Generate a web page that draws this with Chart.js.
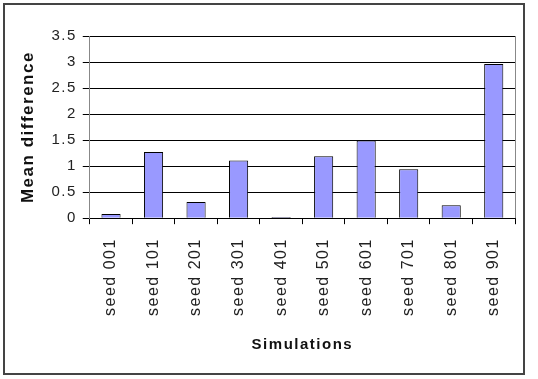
<!DOCTYPE html>
<html>
<head>
<meta charset="utf-8">
<script src="https://cdn.jsdelivr.net/npm/chart.js@4/dist/chart.umd.min.js"></script>
<style>
  html, body { margin: 0; padding: 0; background: #fff; }
  #wrap { width: 538px; height: 379px; }
</style>
</head>
<body>
<div id="wrap"><canvas id="meanChart" width="538" height="379"></canvas></div>
<script>
const seeds = ['seed 001', 'seed 101', 'seed 201', 'seed 301', 'seed 401',
               'seed 501', 'seed 601', 'seed 701', 'seed 801', 'seed 901'];
const meanDiff = [0.08, 1.27, 0.31, 1.11, 0.02, 1.19, 1.49, 0.94, 0.25, 2.96];
const yMin = 0, yMax = 3.5, yStep = 0.5;

// spacing + outer frame, roughly like the old spreadsheet chart
const framePlugin = {
    id: 'frame',
    beforeLayout(chart) {
        chart.ctx.letterSpacing = '1.5px';
    },
    beforeDraw(chart) {
        const c = chart.ctx;
        c.letterSpacing = '1.5px';
        c.save();
        c.fillStyle = '#fff';
        c.fillRect(0, 0, chart.width, chart.height);
        c.strokeStyle = '#444';
        c.lineWidth = 2;
        c.strokeRect(4, 4, 520, 370);
        c.restore();
    },
    afterDraw(chart) {
        const a = chart.chartArea, c = chart.ctx;
        c.save();
        c.strokeStyle = '#888';
        c.lineWidth = 1;
        c.beginPath();
        c.moveTo(a.right + 0.5, a.top);
        c.lineTo(a.right + 0.5, a.bottom);
        c.stroke();
        c.restore();
    }
};

const ctx = document.getElementById('meanChart').getContext('2d');
const meanChart = new Chart(ctx, {
    type: 'bar',
    data: {
        labels: seeds,
        datasets: [{
            label: 'Mean difference',
            data: meanDiff,
            backgroundColor: '#9999ff',
            borderColor: '#000',
            borderWidth: 1,
            barPercentage: 0.45,
            categoryPercentage: 1
        }]
    },
    options: {
        responsive: false,
        animation: false,
        layout: { padding: { left: 16, top: 36, right: 23, bottom: 21 } },
        plugins: {
            legend: { display: false },
            tooltip: { enabled: false }
        },
        scales: {
            x: {
                grid: { drawOnChartArea: false, color: '#000', tickLength: 6 },
                border: { color: '#000' },
                ticks: {
                    minRotation: 90, maxRotation: 90, padding: 14,
                    color: '#222',
                    font: { family: 'Liberation Sans', size: 16 }
                },
                title: {
                    display: true, text: 'Simulations', color: '#111',
                    padding: { top: 6, bottom: 4 },
                    font: { family: 'Liberation Sans', size: 15, weight: 'bold' }
                }
            },
            y: {
                min: yMin, max: yMax,
                grid: { color: '#000', tickLength: 7 },
                border: { color: '#888' },
                ticks: {
                    stepSize: yStep, padding: 6, color: '#222',
                    font: { family: 'Liberation Sans', size: 15 },
                    callback: v => String(v)
                },
                title: {
                    display: true, text: 'Mean difference', color: '#111',
                    padding: { top: 2, bottom: 7 },
                    font: { family: 'Liberation Sans', size: 17, weight: 'bold' }
                }
            }
        }
    },
    plugins: [framePlugin]
});
</script>
</body>
</html>
